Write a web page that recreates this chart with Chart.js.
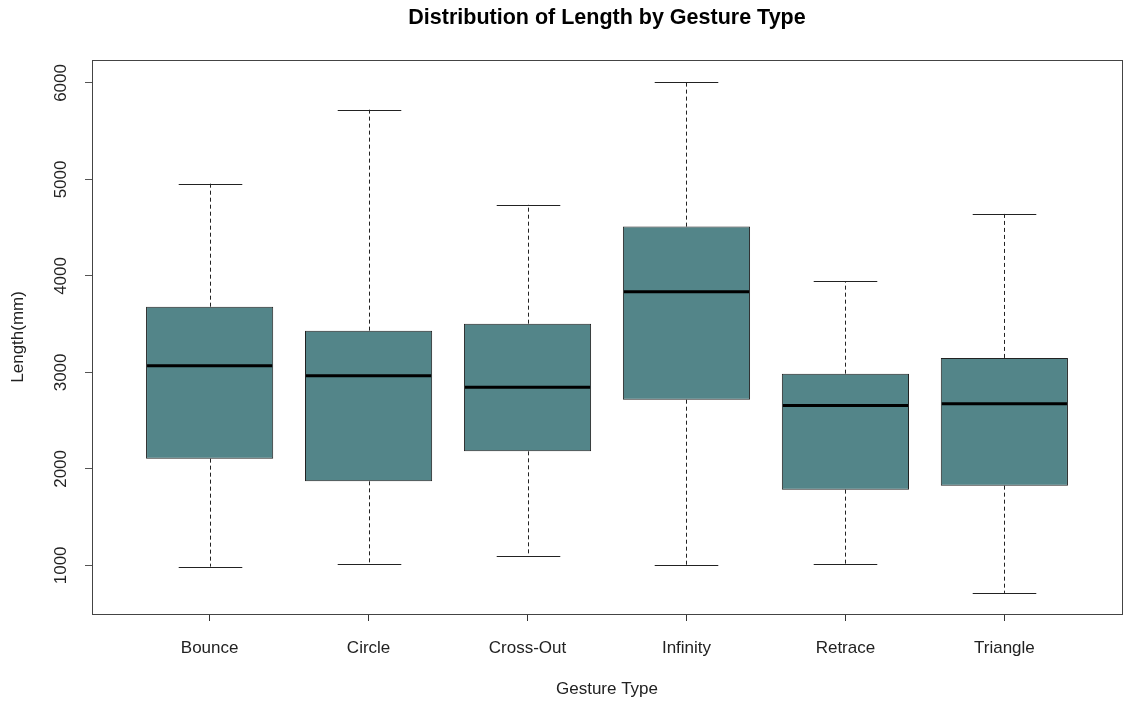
<!DOCTYPE html>
<html>
<head>
<meta charset="utf-8">
<script src="https://cdn.jsdelivr.net/npm/chart.js@4"></script>
<style>
  html, body { margin: 0; padding: 0; background: #fff; }
  canvas { display: block; }
</style>
</head>
<body>
<canvas id="myChart" width="1127" height="704"></canvas>
<script>
const gestures = ["Bounce", "Circle", "Cross-Out", "Infinity", "Retrace", "Triangle"];
const lowWhisker = [987, 1018, 1101, 1007, 1018, 714];
const q1 = [2106, 1871, 2182, 2717, 1785, 1826];
const median = [3070, 2966, 2845, 3837, 2656, 2676];
const q3 = [3681, 3433, 3505, 4511, 2987, 3150];
const highWhisker = [4956, 5723, 4740, 6013, 3944, 4643];
const yTicks = [1000, 2000, 3000, 4000, 5000, 6000];

const FONT = "'Liberation Sans', Arial, sans-serif";
const BOX_FILL = "#538589";

// whiskers, caps and medians drawn on top of the floating bars
const boxExtras = {
  id: "boxExtras",
  afterDatasetsDraw(chart) {
    const ctx = chart.ctx;
    const y = chart.scales.y;
    const bars = chart.getDatasetMeta(0).data;
    ctx.save();
    bars.forEach((bar, i) => {
      const x = Math.round(bar.x) + 0.5;
      const half = bar.width / 2;
      const yLo = y.getPixelForValue(lowWhisker[i]);
      const yHi = y.getPixelForValue(highWhisker[i]);
      const yQ1 = y.getPixelForValue(q1[i]);
      const yQ3 = y.getPixelForValue(q3[i]);
      const yMed = y.getPixelForValue(median[i]);

      ctx.strokeStyle = "#222";
      ctx.lineWidth = 1;
      ctx.setLineDash([4, 3]);
      ctx.beginPath();
      ctx.moveTo(x, yQ3); ctx.lineTo(x, yHi);
      ctx.moveTo(x, yQ1); ctx.lineTo(x, yLo);
      ctx.stroke();

      ctx.setLineDash([]);
      ctx.beginPath();
      ctx.moveTo(x - half / 2, Math.round(yHi) + 0.5); ctx.lineTo(x + half / 2, Math.round(yHi) + 0.5);
      ctx.moveTo(x - half / 2, Math.round(yLo) + 0.5); ctx.lineTo(x + half / 2, Math.round(yLo) + 0.5);
      ctx.stroke();

      ctx.strokeStyle = "#000";
      ctx.lineWidth = 3;
      ctx.beginPath();
      ctx.moveTo(bar.x - half + 1, yMed); ctx.lineTo(bar.x + half - 1, yMed);
      ctx.stroke();
    });

    const a = chart.chartArea;
    ctx.strokeStyle = "#444";
    ctx.lineWidth = 1;
    ctx.strokeRect(Math.round(a.left) + 0.5, Math.round(a.top) + 0.5,
      Math.round(a.right - a.left), Math.round(a.bottom - a.top));
    ctx.restore();
  }
};

new Chart(document.getElementById("myChart"), {
  type: "bar",
  data: {
    datasets: [{
      data: gestures.map((g, i) => ({ x: i + 1, y: [q1[i], q3[i]] })),
      backgroundColor: BOX_FILL,
      borderColor: "#222",
      borderWidth: 1,
      borderSkipped: false,
      barPercentage: 0.8,
      categoryPercentage: 1,
    }]
  },
  options: {
    responsive: false,
    animation: false,
    devicePixelRatio: 1,
    layout: { padding: { right: 5 } },
    plugins: {
      legend: { display: false },
      tooltip: { enabled: false },
      title: {
        display: true,
        text: "Distribution of Length by Gesture Type",
        fullSize: false,
        color: "#000",
        font: { family: FONT, size: 21.5, weight: "bold" },
        padding: { top: 5, bottom: 29 },
      }
    },
    scales: {
      x: {
        type: "linear",
        offset: false,
        min: 0.26,
        max: 6.74,
        afterFit: s => { s.height = 90; s.paddingLeft = 0; s.paddingRight = 0; },
        border: { display: false },
        grid: { offset: false, drawOnChartArea: false, drawTicks: true, tickLength: 7, color: "#333" },
        afterBuildTicks: s => { s.ticks = gestures.map((g, i) => ({ value: i + 1 })); },
        ticks: {
          autoSkip: false,
          maxRotation: 0,
          padding: 17,
          color: "#222",
          font: { family: FONT, size: 17 },
          callback: v => gestures[v - 1] || "",
        },
        title: {
          display: true,
          text: "Gesture Type",
          color: "#222",
          font: { family: FONT, size: 17 },
          padding: { top: 0, bottom: 4 },
        }
      },
      y: {
        min: 496,
        max: 6240,
        afterFit: s => { s.width = 92; s.paddingTop = 0; s.paddingBottom = 0; },
        afterBuildTicks: s => { s.ticks = yTicks.map(v => ({ value: v })); },
        border: { display: false },
        grid: { drawOnChartArea: false, drawTicks: true, tickLength: 7, color: "#555" },
        ticks: {
          minRotation: 90,
          maxRotation: 90,
          crossAlign: "center",
          padding: 5,
          color: "#222",
          font: { family: FONT, size: 17 },
          callback: v => String(v),
        },
        title: {
          display: true,
          text: "Length(mm)",
          color: "#222",
          font: { family: FONT, size: 17 },
          padding: { top: 8, bottom: 0 },
        }
      }
    }
  },
  plugins: [boxExtras]
});
</script>
</body>
</html>
